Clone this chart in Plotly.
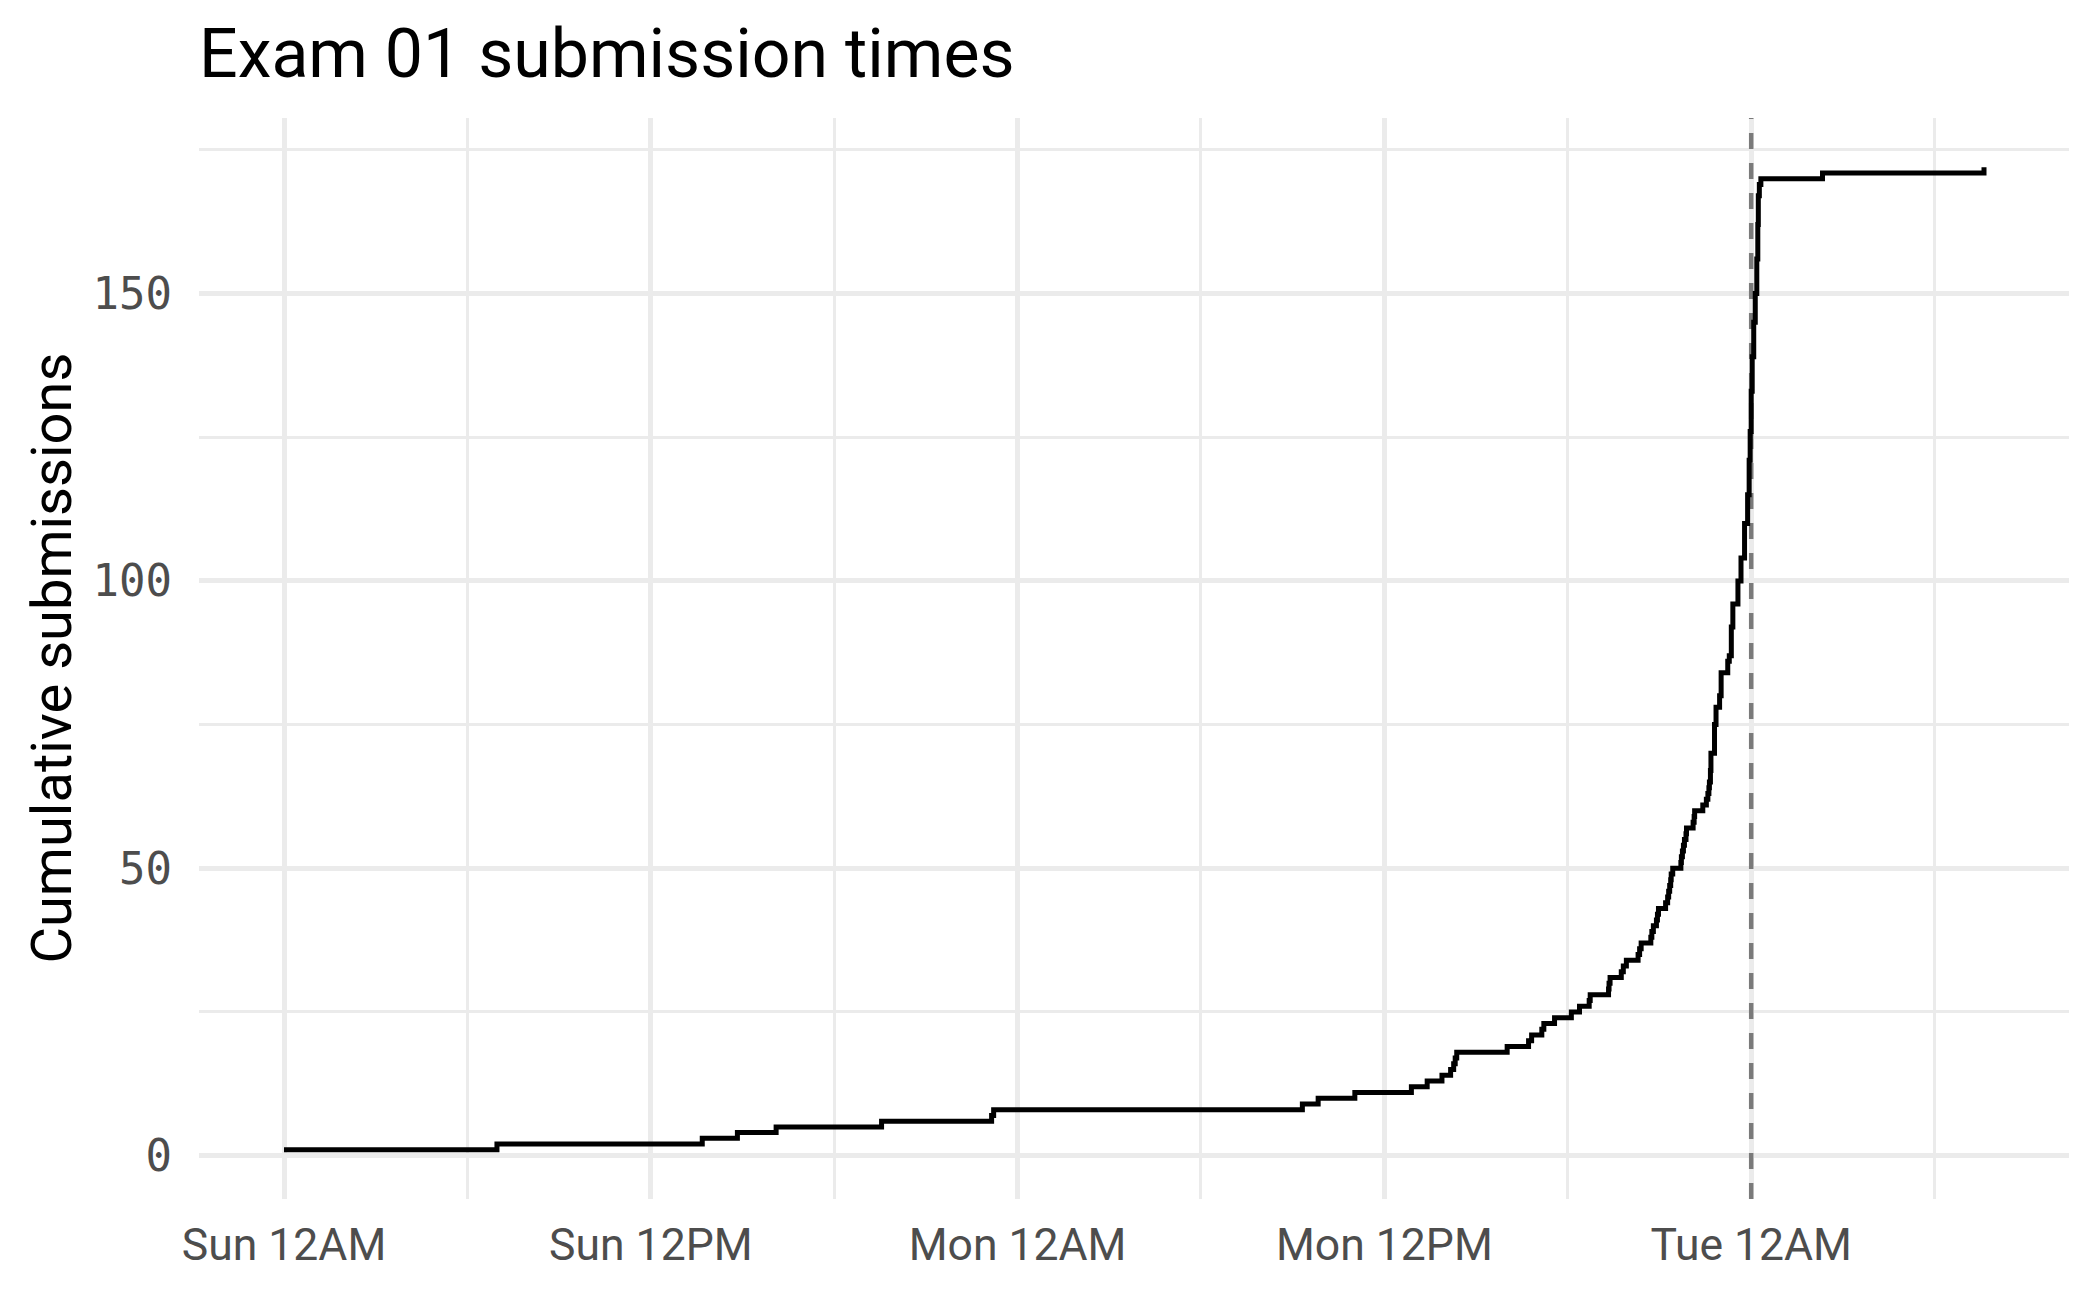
import pandas as pd
import plotly.graph_objects as go

# ---- data ----
submission_times = [
    "2024-02-04 00:00", "2024-02-04 06:58", "2024-02-04 13:41", "2024-02-04 14:50",
    "2024-02-04 16:06", "2024-02-04 19:33", "2024-02-04 23:09", "2024-02-04 23:13",
    "2024-02-05 09:19", "2024-02-05 09:50", "2024-02-05 11:02", "2024-02-05 12:53",
    "2024-02-05 13:24", "2024-02-05 13:53", "2024-02-05 14:10", "2024-02-05 14:16",
    "2024-02-05 14:19", "2024-02-05 14:22", "2024-02-05 16:01", "2024-02-05 16:43",
    "2024-02-05 16:49", "2024-02-05 17:09", "2024-02-05 17:13", "2024-02-05 17:34",
    "2024-02-05 18:07", "2024-02-05 18:23", "2024-02-05 18:42", "2024-02-05 18:44",
    "2024-02-05 19:20", "2024-02-05 19:21", "2024-02-05 19:23", "2024-02-05 19:45",
    "2024-02-05 19:49", "2024-02-05 19:55", "2024-02-05 20:18", "2024-02-05 20:21",
    "2024-02-05 20:24", "2024-02-05 20:43", "2024-02-05 20:45", "2024-02-05 20:48",
    "2024-02-05 20:54", "2024-02-05 20:56", "2024-02-05 20:58", "2024-02-05 21:12",
    "2024-02-05 21:16", "2024-02-05 21:18", "2024-02-05 21:20", "2024-02-05 21:22",
    "2024-02-05 21:23", "2024-02-05 21:26", "2024-02-05 21:42", "2024-02-05 21:43",
    "2024-02-05 21:45", "2024-02-05 21:47", "2024-02-05 21:49", "2024-02-05 21:52",
    "2024-02-05 21:53", "2024-02-05 22:06", "2024-02-05 22:08", "2024-02-05 22:09",
    "2024-02-05 22:25", "2024-02-05 22:32", "2024-02-05 22:35", "2024-02-05 22:37",
    "2024-02-05 22:38", "2024-02-05 22:40", "2024-02-05 22:41", "2024-02-05 22:48",
    "2024-02-05 22:51", "2024-02-05 22:58", "2024-02-05 23:01", "2024-02-05 23:14",
    "2024-02-05 23:17", "2024-02-05 23:21", "2024-02-05 23:24", "2024-02-05 23:34",
    "2024-02-05 23:40", "2024-02-05 23:47", "2024-02-05 23:53", "2024-02-05 23:56",
    "2024-02-05 23:58", "2024-02-06 00:00", "2024-02-06 00:02", "2024-02-06 00:05",
    "2024-02-06 00:08", "2024-02-06 00:11", "2024-02-06 00:13", "2024-02-06 00:14",
    "2024-02-06 00:16", "2024-02-06 00:19", "2024-02-06 02:20", "2024-02-06 07:37",
]
cumulative_submissions = [
    1, 2, 3, 4,
    5, 6, 7, 8,
    9, 10, 11, 12,
    13, 14, 15, 16,
    17, 18, 19, 20,
    21, 22, 23, 24,
    25, 26, 27, 28,
    29, 30, 31, 32,
    33, 34, 35, 36,
    37, 38, 39, 40,
    41, 42, 43, 44,
    45, 46, 47, 48,
    49, 50, 51, 52,
    53, 54, 55, 56,
    57, 58, 59, 60,
    61, 62, 63, 64,
    65, 67, 70, 75,
    78, 80, 84, 86,
    87, 92, 96, 100,
    104, 110, 115, 121,
    126, 133, 139, 145,
    150, 156, 162, 167,
    169, 170, 171, 172,
]
deadline = "2024-02-06 00:00"

x_tick_values = ["2024-02-04 00:00", "2024-02-04 12:00", "2024-02-05 00:00",
                 "2024-02-05 12:00", "2024-02-06 00:00"]
x_tick_labels = ["Sun 12AM", "Sun 12PM", "Mon 12AM", "Mon 12PM", "Tue 12AM"]
x_minor_values = ["2024-02-04 06:00", "2024-02-04 18:00", "2024-02-05 06:00",
                  "2024-02-05 18:00", "2024-02-06 06:00"]
y_tick_values = [0, 50, 100, 150]
y_tick_labels = ["0", "50", "100", "150"]
y_minor_values = [25, 75, 125, 175]

title_text = "Exam 01 submission times"
y_title_text = "Cumulative submissions"

# ---- ranges with ggplot-like 5% expansion ----
t = pd.to_datetime(pd.Series(submission_times))
tspan = t.max() - t.min()
x_range = [t.min() - 0.05 * tspan, t.max() + 0.05 * tspan]
ymin, ymax = min(cumulative_submissions), max(cumulative_submissions)
yspan = ymax - ymin
y_range = [ymin - 0.05 * yspan, ymax + 0.05 * yspan]

# page body has an 8px margin; size the figure so the plot panel lands right
BODY = 8
W, H = 2100 - BODY, 1297 - BODY
ML, MR, MT, MB = 199 - BODY, 31, 118 - BODY, 98
GRID = "#ebebeb"
TICKC = "#4d4d4d"

fig = go.Figure()
# deadline marker (drawn under the step line, above the grid)
fig.add_trace(go.Scatter(
    x=[pd.Timestamp(deadline), pd.Timestamp(deadline)], y=y_range, mode="lines",
    line=dict(color="#7a7a7a", width=4.5, dash="16px,14px"),
    showlegend=False, hoverinfo="skip",
))
fig.add_trace(go.Scatter(
    x=t, y=cumulative_submissions, mode="lines",
    line=dict(shape="hv", color="black", width=5),
    showlegend=False, hoverinfo="x+y",
))

fig.update_layout(
    width=W, height=H,
    margin=dict(l=ML, r=MR, t=MT, b=MB, pad=0, autoexpand=False),
    paper_bgcolor="white", plot_bgcolor="white",
    title=dict(text=title_text, x=ML / W, xanchor="left", xref="container",
               y=1 - 45 / H, yanchor="middle", yref="container",
               font=dict(family="Roboto", size=68, color="black")),
    font=dict(family="Roboto"),
    xaxis=dict(
        type="date", range=x_range, automargin=False,
        tickmode="array", tickvals=x_tick_values, ticktext=x_tick_labels,
        showgrid=True, gridcolor=GRID, gridwidth=5,
        zeroline=False, showline=False, ticks="",
        tickfont=dict(family="Roboto", size=44.5, color=TICKC),
        ticklabelstandoff=15,
        minor=dict(tickvals=x_minor_values, showgrid=True, gridcolor=GRID, gridwidth=2.6, ticks=""),
    ),
    yaxis=dict(
        range=y_range, automargin=False,
        tickmode="array", tickvals=y_tick_values, ticktext=y_tick_labels,
        showgrid=True, gridcolor=GRID, gridwidth=5,
        zeroline=False, showline=False, ticks="",
        tickfont=dict(family="DejaVu Sans Mono", size=44, color=TICKC),
        ticklabelstandoff=26,
        minor=dict(tickvals=y_minor_values, showgrid=True, gridcolor=GRID, gridwidth=2.6, ticks=""),
    ),
    annotations=[dict(
        text=y_title_text, textangle=-90, showarrow=False,
        xref="paper", yref="paper", x=(51 - 199) / (2069 - 199), y=0.5,
        xanchor="center", yanchor="middle",
        font=dict(family="Roboto", size=56, color="black"),
    )],
)

fig.write_html("out.html")
